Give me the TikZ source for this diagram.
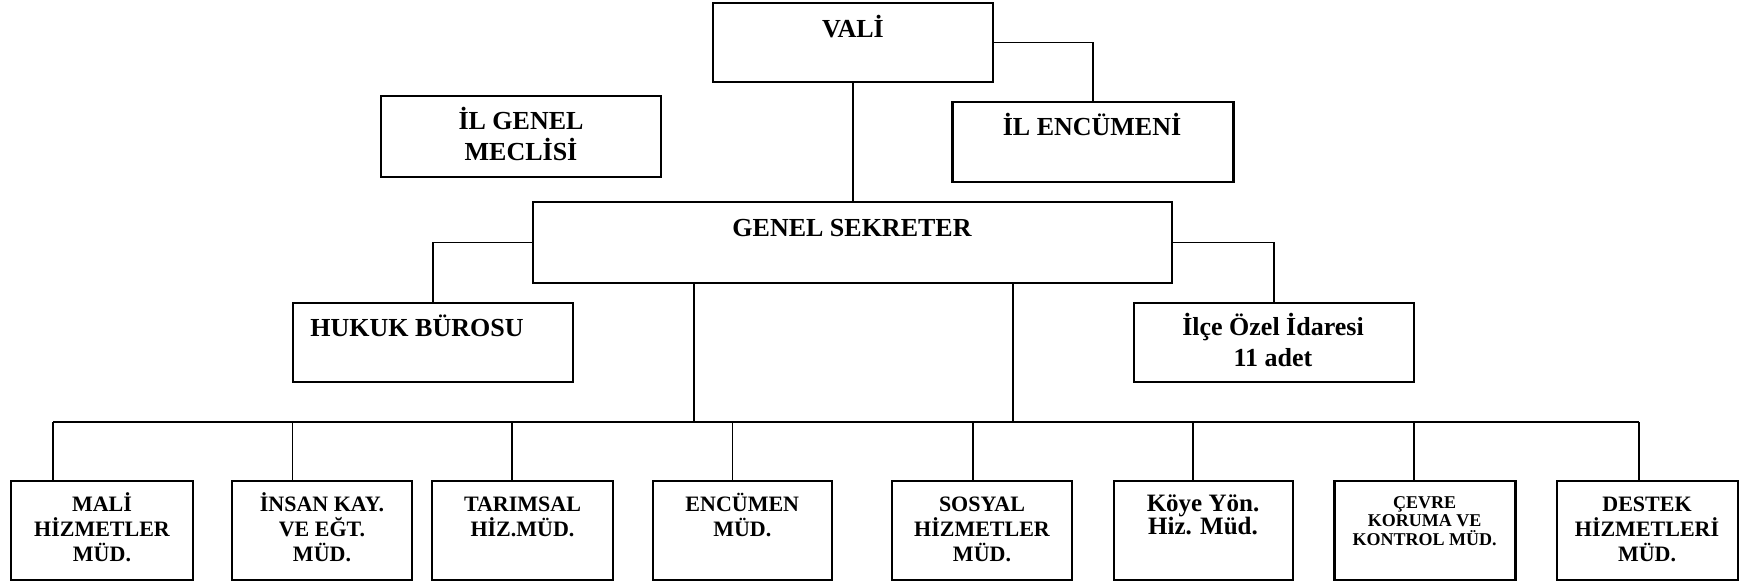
\documentclass[tikz,border=0pt]{standalone}
\usepackage{fontspec}
\setmainfont{Liberation Serif}
\begin{document}
\begin{tikzpicture}[x=0.5pt,y=-0.5pt,
  box/.style n args={2}{draw, line width=1.1pt, rectangle, inner sep=0pt,
    minimum width=#1*0.5pt, minimum height=#2*0.5pt},
  conn/.style={draw, line width=0.9pt},
  txt/.style={inner sep=0pt, align=center, anchor=base, font=\bfseries\fontsize{13}{15.5}\selectfont},
  smalltxt/.style={txt, font=\bfseries\fontsize{11}{12.5}\selectfont},
  koytxt/.style={txt, font=\bfseries\fontsize{12.5}{11.5}\selectfont},
  tinytxt/.style={txt, font=\bfseries\fontsize{9}{9.3}\selectfont}]
\useasboundingbox (0,0) rectangle (1740,582);
% top boxes
\node[box={280}{79}] (vali) at (853,42.5) {};
\node[box={280}{81}] (ilgm) at (521,136.5) {};
\node[box={281}{80}] (ilenc) at (1093,142) {};
\node[box={639}{81}] (gs) at (852.5,242.5) {};
\node[box={280}{79}] (hukuk) at (433,342.5) {};
\node[box={280}{79}] (ilce) at (1274,342.5) {};
% bottom boxes
\node[box={182}{99}] (b1) at (102,530.5) {};
\node[box={180}{99}] (b2) at (322,530.5) {};
\node[box={181}{99}] (b3) at (522.5,530.5) {};
\node[box={179}{99}] (b4) at (742.3,530.5) {};
\node[box={180}{99}] (b5) at (982,530.5) {};
\node[box={179}{99}] (b6) at (1203.5,530.5) {};
\node[box={181}{99}] (b7) at (1425,530.5) {};
\node[box={181}{99}] (b8) at (1647.5,530.5) {};
% texts (anchor base = baseline of the last line)
\node[txt] (tvali) at (853,37.5) {VALİ};
\node[txt] (tilgm) at (521,161) {İL GENEL\\MECLİSİ};
\node[txt] (tilenc) at (1092,136) {İL ENCÜMENİ};
\node[txt] (tgs) at (852,237) {GENEL SEKRETER};
\node[txt] (thukuk) at (417,337) {HUKUK BÜROSU};
\node[txt] (tilce) at (1273,367) {İlçe Özel İdaresi\\11 adet};
\node[smalltxt] (tb1) at (102,561) {MALİ\\HİZMETLER\\MÜD.};
\node[smalltxt] (tb2) at (322,561) {İNSAN KAY.\\VE EĞT.\\MÜD.};
\node[smalltxt] (tb3) at (522.5,536) {TARIMSAL\\HİZ.MÜD.};
\node[smalltxt] (tb4) at (742.3,536) {ENCÜMEN\\MÜD.};
\node[smalltxt] (tb5) at (982,561) {SOSYAL\\HİZMETLER\\MÜD.};
\node[koytxt] (tb6) at (1203,534) {Köye Yön.\\Hiz. Müd.};
\node[tinytxt] (tb7) at (1424.5,545.5) {ÇEVRE\\KORUMA VE\\KONTROL MÜD.};
\node[smalltxt] (tb8) at (1647,561) {DESTEK\\HİZMETLERİ\\MÜD.};
% connectors
\draw[conn] (vali.south) -- (vali.south |- gs.north);
\draw[conn] (vali.east) -| (ilenc.north);
\draw[conn] (gs.west) -| (hukuk.north);
\draw[conn] (gs.east) -| (ilce.north);
\coordinate (j1) at (694,422);
\coordinate (j2) at (1013,422);
\draw[conn] (j1 |- gs.south) -- (j1);
\draw[conn] (j2 |- gs.south) -- (j2);
\coordinate (d1) at (53,422);
\coordinate (d2) at (292.5,422);
\coordinate (d3) at (512,422);
\coordinate (d4) at (732.5,422);
\coordinate (d5) at (972.7,422);
\coordinate (d6) at (1193,422);
\coordinate (d7) at (1414,422);
\coordinate (d8) at (1638.6,422);
\draw[conn] (d1) -- (d8);
\foreach \i in {1,...,8} {
  \draw[conn] (d\i) -- (d\i |- b\i.north);
}
\end{tikzpicture}
\end{document}
